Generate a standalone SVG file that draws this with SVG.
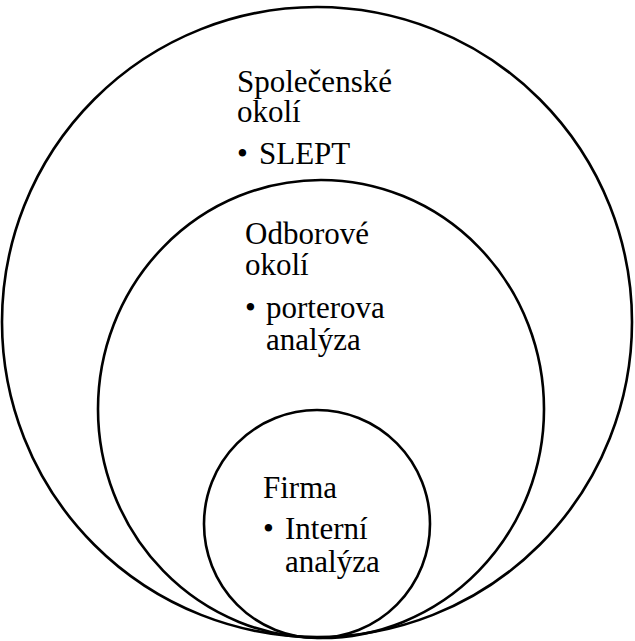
<svg xmlns="http://www.w3.org/2000/svg" width="635" height="641" viewBox="0 0 635 641">
  <style>
    .ring { fill: none; stroke: #000; stroke-width: 2.6; }
    .lbl { font-family: "Liberation Serif", "Times New Roman", serif; font-size: 31px; fill: #000; }
  </style>
  <rect width="635" height="641" fill="#fff"/>
  <!-- outer environment -->
  <g id="spolecenske">
    <circle class="ring" cx="317" cy="322" r="315"/>
    <text class="lbl" x="237" y="92">Společenské</text>
    <text class="lbl" x="237" y="122">okolí</text>
    <text class="lbl" x="237" y="164">•</text>
    <text class="lbl" x="259" y="164">SLEPT</text>
  </g>
  <!-- industry environment -->
  <g id="odborove">
    <ellipse class="ring" cx="321" cy="409" rx="223" ry="229"/>
    <text class="lbl" x="245" y="244">Odborové</text>
    <text class="lbl" x="245" y="275">okolí</text>
    <text class="lbl" x="245" y="318">•</text>
    <text class="lbl" x="266" y="318">porterova</text>
    <text class="lbl" x="266" y="350">analýza</text>
  </g>
  <!-- the firm -->
  <g id="firma">
    <ellipse class="ring" cx="317" cy="524" rx="113" ry="114"/>
    <text class="lbl" x="263" y="498">Firma</text>
    <text class="lbl" x="263" y="539">•</text>
    <text class="lbl" x="285" y="539">Interní</text>
    <text class="lbl" x="285" y="572">analýza</text>
  </g>
  <g id="connectors"/>
</svg>
